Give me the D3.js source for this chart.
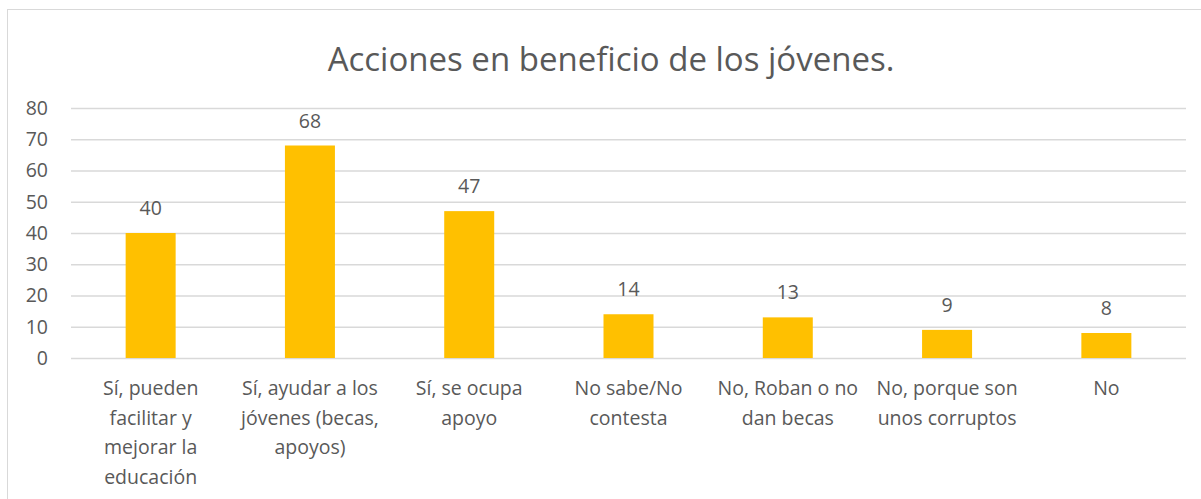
<!DOCTYPE html>
<html>
<head>
<meta charset="utf-8">
<script src="https://cdn.jsdelivr.net/npm/d3@7"></script>
<style>
  body { margin: 0; background: #fff; }
  text { font-family: "Open Sans", sans-serif; fill: #595959; }
</style>
</head>
<body>
<div class="chart"></div>
<script>
// data
const categories = [
  'Sí, pueden facilitar y mejorar la educación',
  'Sí, ayudar a los jóvenes (becas, apoyos)',
  'Sí, se ocupa apoyo',
  'No sabe/No contesta',
  'No, Roban o no dan becas',
  'No, porque son unos corruptos',
  'No'
]
// wrapped lines, as shown under the axis
const categoryLines = [
  ['Sí, pueden', 'facilitar y', 'mejorar la', 'educación'],
  ['Sí, ayudar a los', 'jóvenes (becas,', 'apoyos)'],
  ['Sí, se ocupa', 'apoyo'],
  ['No sabe/No', 'contesta'],
  ['No, Roban o no', 'dan becas'],
  ['No, porque son', 'unos corruptos'],
  ['No']
]
const values = [40, 68, 47, 14, 13, 9, 8]
const yTicks = [0, 10, 20, 30, 40, 50, 60, 70, 80]
const title = 'Acciones en beneficio de los jóvenes.'

const svg_width = 1201
const svg_height = 499
const margin = { top: 108, right: 15, bottom: 141, left: 71 }
const chart_width = svg_width - margin.left - margin.right
const chart_height = svg_height - margin.top - margin.bottom
const fontSize = 19.5

const svg = d3.select('.chart').append('svg')
  .attr('width', svg_width).attr('height', svg_height)

// outer frame (right and bottom edges fall outside the picture)
svg.append('rect')
  .attr('x', 7.5).attr('y', 9.5)
  .attr('width', svg_width + 20).attr('height', svg_height + 20)
  .attr('fill', 'none').attr('stroke', '#d9d9d9').attr('stroke-width', 1)

const g = svg.append('g')
  .attr('transform', `translate(${margin.left}, ${margin.top})`)

// scales
const xScale = d3.scaleBand().domain(categories).range([0, chart_width])
const yScale = d3.scaleLinear([0, 80], [chart_height, 0])
const barWidth = 50

// grid + y axis labels
const yAxis = d3.axisLeft(yScale).tickValues(yTicks)
  .tickSize(-chart_width).tickPadding(23)
g.append('g').attr('class', 'y axis').call(yAxis)
  .call(a => a.select('.domain').remove())
  .call(a => a.selectAll('line').attr('stroke', '#d9d9d9').attr('stroke-width', 1.5))
  .call(a => a.selectAll('text').attr('font-size', fontSize).attr('fill', '#595959')
    .attr('font-family', '"Open Sans", sans-serif'))

// bars
g.append('g').selectAll('rect').data(values).join('rect')
  .attr('x', (d, i) => xScale(categories[i]) + xScale.bandwidth() / 2 - barWidth / 2)
  .attr('y', d => yScale(d))
  .attr('width', barWidth)
  .attr('height', d => chart_height - yScale(d))
  .attr('fill', '#ffc000')

// value labels
g.append('g').selectAll('text').data(values).join('text')
  .attr('x', (d, i) => xScale(categories[i]) + xScale.bandwidth() / 2)
  .attr('y', d => yScale(d) - 18)
  .attr('text-anchor', 'middle')
  .attr('font-size', fontSize)
  .text(d => d)

// category labels
const xl = g.append('g').selectAll('text').data(categoryLines).join('text')
  .attr('text-anchor', 'middle')
  .attr('font-size', fontSize)
  .attr('transform', (d, i) => `translate(${xScale(categories[i]) + xScale.bandwidth() / 2}, ${chart_height + 37})`)
xl.selectAll('tspan').data(d => d).join('tspan')
  .attr('x', 0).attr('y', (d, i) => i * 29.6)
  .text(d => d)

// title
svg.append('text')
  .attr('x', 611).attr('y', 71)
  .attr('text-anchor', 'middle')
  .attr('font-size', 33)
  .text(title)
</script>
</body>
</html>
